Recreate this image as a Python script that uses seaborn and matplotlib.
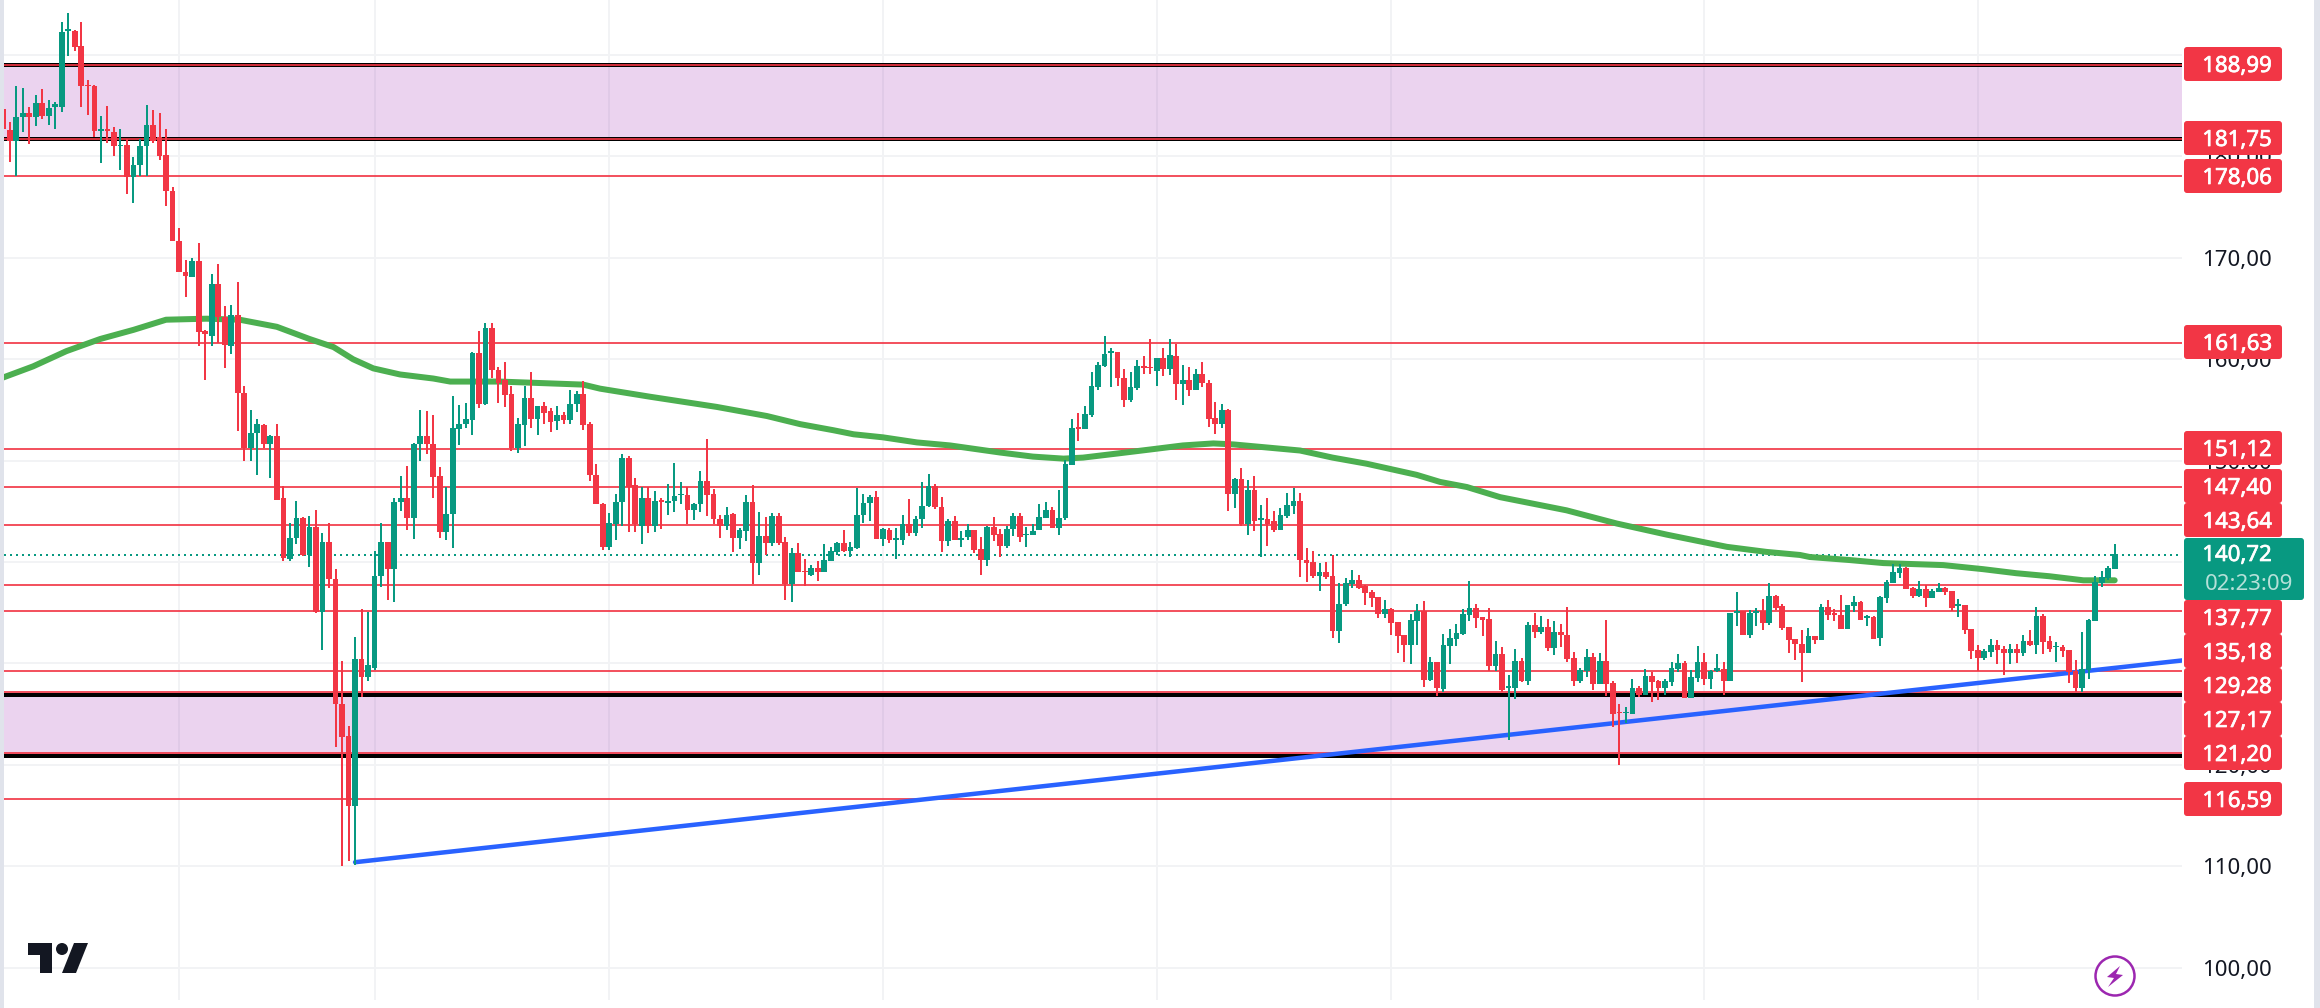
#%% ---- Load Packages ----
import numpy as np
import pandas as pd
import matplotlib.pyplot as plt
import matplotlib.patheffects as pe
import seaborn as sns
from matplotlib.patches import Circle, FancyBboxPatch, Polygon, Rectangle

#%% ---- Chart data ----
high = [
    185.4, 183.4, 186.9, 186.8, 184.9, 186.1, 186.7, 185.6, 185.4, 193.3, 194.1,
    192.5, 193.3, 187.5, 187.0, 184.0, 185.0, 182.9, 182.7, 181.7, 179.9,
    181.7, 185.1, 184.6, 184.3, 182.7, 177.0, 172.9, 169.8, 170.0, 171.5,
    162.9, 168.4, 169.4, 165.3, 165.4, 167.6, 157.4, 155.0, 154.1, 153.6,
    152.5, 153.6, 147.5, 143.9, 146.0, 144.4, 144.5, 145.1, 142.9, 143.9,
    139.3, 130.2, 123.8, 132.6, 135.4, 135.1, 141.1, 143.9, 142.0, 146.3,
    148.5, 149.5, 151.7, 155.0, 154.9, 154.5, 149.4, 147.4, 156.4, 155.5,
    155.7, 160.7, 162.8, 163.6, 163.6, 159.2, 159.7, 157.4, 154.2, 157.4,
    158.7, 155.4, 155.8, 155.2, 155.4, 154.8, 157.0, 156.9, 157.9, 153.8,
    149.7, 145.8, 144.8, 146.7, 150.7, 150.5, 148.3, 147.4, 147.4, 147.0,
    146.3, 147.7, 149.8, 147.9, 147.4, 145.8, 149.0, 152.1, 147.2, 144.6,
    145.4, 144.8, 143.4, 146.6, 147.6, 144.9, 144.4, 144.8, 144.8, 142.5,
    141.4, 141.9, 140.3, 139.7, 140.1, 141.8, 141.5, 142.0, 143.2, 142.0,
    147.3, 146.7, 146.6, 147.0, 143.4, 143.4, 143.4, 144.6, 146.2, 144.5,
    147.9, 148.7, 147.7, 146.4, 144.2, 144.5, 143.1, 143.8, 143.2, 142.5,
    143.6, 144.4, 143.3, 143.6, 144.8, 144.8, 143.5, 143.8, 145.7, 145.9,
    145.4, 147.1, 150.1, 154.1, 154.7, 155.4, 158.7, 159.7, 162.3, 161.1,
    160.7, 159.0, 158.7, 159.9, 160.3, 162.0, 160.1, 161.1, 162.0, 161.5,
    159.4, 159.2, 159.0, 159.7, 158.0, 155.8, 155.6, 155.1, 148.3, 149.3,
    148.1, 148.5, 145.6, 146.3, 145.0, 145.3, 146.8, 147.3, 146.8, 141.4,
    141.1, 139.9, 140.0, 140.7, 137.9, 138.4, 139.2, 138.7, 137.7, 137.2,
    136.6, 136.3, 135.5, 134.1, 132.8, 134.9, 135.9, 136.2, 130.6, 130.1,
    132.9, 133.4, 133.9, 135.4, 138.1, 135.9, 134.6, 135.5, 132.2, 131.6,
    128.9, 131.4, 130.5, 134.1, 135.0, 134.7, 134.4, 134.2, 133.9, 135.6,
    131.1, 129.6, 131.4, 131.0, 131.0, 134.3, 128.3, 126.0, 125.7, 128.5,
    127.8, 129.5, 129.2, 128.4, 128.5, 130.1, 130.9, 130.2, 129.4, 131.7,
    131.0, 129.4, 130.9, 130.1, 135.0, 137.0, 135.2, 135.3, 135.5, 136.4,
    137.9, 136.8, 135.9, 133.6, 132.4, 133.3, 133.5, 132.7, 135.9, 136.3,
    135.4, 136.8, 135.8, 136.7, 136.2, 134.8, 134.7, 136.7, 138.2, 139.8,
    139.8, 139.5, 137.5, 138.1, 137.7, 137.3, 137.9, 137.5, 137.1, 136.4,
    135.8, 133.4, 131.8, 131.4, 132.4, 132.3, 131.7, 131.9, 131.9, 132.8,
    133.3, 135.6, 134.9, 132.7, 132.1, 131.8, 131.3, 130.3, 133.1, 134.4,
    138.6, 139.1, 139.6, 141.8,
]
low = [
    182.4, 179.5, 178.1, 182.4, 181.2, 183.0, 183.7, 183.1, 182.7, 184.4, 189.9,
    190.4, 184.9, 184.1, 181.9, 179.4, 181.3, 180.0, 178.7, 176.3, 175.4,
    178.1, 178.1, 181.3, 179.7, 175.1, 171.7, 168.6, 166.1, 168.1, 161.3,
    158.0, 161.3, 161.6, 159.1, 160.5, 152.9, 150.0, 150.0, 148.6, 151.2,
    148.3, 146.1, 140.1, 140.1, 141.8, 140.6, 139.5, 135.0, 131.3, 137.4,
    121.8, 110.0, 110.5, 110.1, 126.7, 128.3, 129.4, 137.5, 136.3, 136.1,
    145.0, 143.2, 142.3, 150.0, 150.7, 146.3, 142.4, 142.2, 141.4, 151.5,
    153.2, 152.5, 155.2, 155.5, 158.2, 155.7, 155.3, 151.0, 150.8, 151.4,
    153.2, 152.5, 153.6, 152.8, 153.0, 153.6, 153.6, 154.8, 153.0, 148.0,
    145.7, 141.2, 141.2, 142.2, 143.6, 143.0, 143.0, 141.8, 142.9, 143.0,
    143.3, 144.6, 144.9, 145.7, 143.8, 144.1, 144.9, 144.5, 143.8, 142.4,
    143.2, 141.0, 141.3, 142.1, 137.8, 138.7, 140.7, 141.6, 141.7, 136.3,
    136.1, 139.0, 137.6, 138.6, 138.1, 139.0, 140.1, 140.7, 141.0, 140.5,
    141.3, 143.9, 144.0, 142.3, 141.6, 141.9, 140.3, 141.7, 142.6, 142.6,
    143.4, 145.4, 145.2, 141.0, 141.6, 142.2, 141.5, 142.2, 140.9, 138.7,
    139.6, 142.1, 140.5, 141.4, 142.6, 142.0, 141.5, 142.7, 143.2, 144.3,
    143.4, 142.7, 144.1, 149.6, 151.9, 153.1, 154.3, 157.0, 159.2, 157.3,
    157.4, 155.3, 155.8, 157.0, 158.5, 158.5, 157.4, 158.3, 158.4, 156.0,
    155.5, 156.4, 157.0, 157.3, 153.3, 152.6, 153.2, 145.0, 145.3, 143.6,
    142.7, 143.1, 140.5, 141.6, 143.0, 143.2, 144.3, 144.7, 138.5, 138.0,
    138.4, 137.1, 138.3, 132.5, 132.0, 135.7, 137.4, 137.3, 135.8, 135.6,
    134.5, 134.5, 132.8, 131.0, 130.1, 129.9, 131.8, 127.7, 128.3, 126.8,
    127.2, 129.9, 131.7, 132.8, 134.2, 133.5, 132.7, 129.3, 129.3, 127.2,
    122.5, 126.5, 128.2, 127.9, 132.5, 132.9, 131.2, 130.8, 131.6, 130.1,
    127.8, 128.1, 128.7, 127.4, 128.0, 126.8, 123.7, 120.0, 124.1, 125.0,
    126.7, 126.9, 126.2, 126.4, 126.9, 127.8, 129.2, 126.6, 126.6, 128.2,
    127.9, 127.5, 129.2, 126.9, 128.3, 133.7, 132.8, 132.5, 133.7, 133.3,
    133.8, 135.3, 133.3, 131.0, 130.3, 128.2, 131.0, 131.9, 132.3, 134.3,
    134.2, 133.4, 133.4, 135.1, 134.3, 133.7, 132.4, 131.7, 136.0, 137.9,
    138.4, 137.3, 136.5, 136.6, 135.6, 136.5, 137.0, 136.8, 135.2, 134.6,
    132.9, 130.4, 129.3, 130.3, 130.6, 129.9, 128.9, 129.9, 130.0, 130.7,
    131.7, 130.9, 130.9, 131.1, 130.1, 130.6, 128.1, 127.2, 127.2, 128.5,
    134.2, 137.5, 138.2, 139.3,
]
body_top = [
    184.7, 182.6, 183.9, 184.3, 184.3, 185.3, 185.3, 184.8, 185.2, 192.3, 192.6,
    192.4, 190.9, 187.0, 186.9, 182.7, 182.7, 182.4, 181.1, 181.1, 179.2,
    181.0, 183.1, 183.1, 181.9, 180.1, 176.6, 171.7, 168.6, 169.7, 169.7,
    162.8, 167.4, 167.4, 164.2, 164.4, 164.4, 156.7, 152.7, 153.6, 153.5,
    152.4, 152.4, 146.3, 142.4, 144.3, 144.3, 143.5, 143.5, 142.0, 142.0,
    138.3, 126.0, 122.8, 130.4, 130.4, 129.8, 138.6, 142.0, 142.0, 145.9,
    146.3, 146.3, 151.6, 152.4, 152.4, 151.6, 148.5, 144.7, 153.2, 153.6,
    154.1, 160.6, 160.6, 163.1, 163.1, 158.9, 158.0, 156.6, 153.6, 156.2,
    156.2, 155.4, 155.4, 154.9, 154.5, 154.5, 155.6, 156.6, 156.6, 153.6,
    148.6, 145.7, 143.9, 145.9, 150.3, 150.3, 147.6, 146.3, 146.3, 146.0,
    146.1, 146.0, 146.5, 146.7, 146.6, 145.7, 148.0, 148.0, 146.7, 144.2,
    144.6, 144.7, 143.2, 145.9, 145.9, 142.6, 142.6, 144.5, 144.5, 142.0,
    140.9, 140.9, 139.1, 139.4, 139.4, 140.2, 141.1, 141.9, 141.9, 141.5,
    144.6, 145.8, 146.4, 146.4, 143.3, 143.2, 142.4, 143.8, 143.8, 144.2,
    145.5, 147.5, 147.5, 145.4, 144.0, 144.0, 142.4, 143.2, 143.2, 141.3,
    143.5, 143.5, 142.8, 143.3, 144.5, 144.5, 142.8, 143.1, 144.4, 145.1,
    145.1, 144.3, 149.7, 153.2, 153.3, 154.6, 157.4, 159.4, 160.5, 160.8,
    160.7, 158.2, 157.3, 159.3, 159.3, 159.2, 160.1, 160.1, 160.4, 160.3,
    158.0, 158.0, 158.5, 158.5, 157.7, 154.2, 155.0, 155.0, 148.2, 148.2,
    147.1, 147.1, 144.3, 144.2, 144.0, 144.6, 145.6, 146.0, 146.0, 140.2,
    140.0, 139.0, 139.0, 138.6, 135.9, 137.9, 138.2, 138.2, 137.6, 137.0,
    136.6, 135.4, 135.4, 134.1, 132.8, 134.3, 135.2, 135.2, 130.1, 130.1,
    131.8, 132.5, 133.0, 134.9, 135.5, 135.5, 134.6, 134.4, 130.9, 130.9,
    127.8, 130.2, 130.2, 133.8, 133.8, 133.6, 133.6, 133.1, 133.1, 132.8,
    130.5, 129.4, 130.6, 130.6, 130.2, 130.2, 128.1, 125.2, 125.2, 127.6,
    127.6, 128.8, 128.8, 128.3, 128.3, 129.6, 130.0, 130.0, 128.7, 130.1,
    130.1, 129.3, 129.6, 129.5, 135.0, 135.2, 135.2, 135.0, 135.2, 135.2,
    136.7, 136.7, 135.7, 133.6, 132.4, 131.9, 132.7, 132.7, 135.6, 135.6,
    135.0, 134.8, 135.8, 136.1, 136.1, 134.7, 134.6, 136.6, 138.0, 139.0,
    139.4, 139.4, 137.4, 137.3, 137.3, 137.1, 137.4, 137.4, 137.1, 135.9,
    135.8, 133.4, 131.3, 131.2, 131.8, 131.8, 131.4, 131.4, 131.4, 132.2,
    132.2, 134.7, 134.7, 132.2, 131.7, 131.6, 131.3, 129.3, 129.5, 134.3,
    138.0, 138.5, 139.4, 140.8,
]
body_bot = [
    182.7, 181.5, 181.5, 183.9, 183.9, 183.9, 184.0, 184.0, 184.9, 184.9, 192.4,
    190.8, 186.9, 186.9, 182.5, 182.5, 182.5, 181.0, 181.0, 178.0, 178.0,
    179.2, 181.0, 181.5, 180.0, 176.6, 171.7, 168.6, 168.2, 168.1, 162.7,
    162.5, 162.3, 164.2, 161.4, 161.3, 156.7, 151.2, 151.2, 152.7, 151.6,
    151.6, 146.1, 140.4, 140.3, 142.4, 140.7, 140.7, 135.1, 135.1, 138.3,
    126.0, 122.7, 115.9, 115.9, 128.7, 128.7, 129.6, 138.6, 139.3, 139.3,
    145.9, 144.3, 144.3, 151.6, 151.6, 148.4, 143.0, 143.0, 144.7, 153.1,
    153.6, 154.0, 155.6, 155.6, 158.9, 157.7, 156.5, 151.2, 151.2, 153.5,
    154.1, 154.1, 154.7, 153.8, 153.9, 154.0, 154.0, 155.6, 153.5, 148.6,
    145.7, 141.5, 141.5, 143.8, 145.9, 147.4, 143.8, 143.6, 143.6, 143.6,
    145.9, 145.8, 146.0, 146.6, 145.1, 145.1, 145.7, 146.6, 144.2, 143.6,
    143.6, 142.4, 142.4, 143.1, 139.9, 139.9, 141.9, 141.9, 141.9, 137.8,
    137.8, 139.0, 139.0, 138.7, 139.0, 139.0, 140.1, 141.0, 141.1, 141.1,
    141.4, 144.6, 145.8, 142.3, 142.3, 142.2, 142.2, 142.2, 142.9, 142.9,
    144.2, 145.5, 145.4, 142.1, 142.1, 142.2, 142.2, 142.5, 141.2, 140.2,
    140.2, 142.7, 141.6, 141.6, 143.3, 142.5, 142.7, 142.7, 143.2, 144.3,
    143.4, 143.4, 144.3, 149.6, 153.1, 153.1, 154.5, 157.3, 159.3, 160.6,
    158.2, 156.0, 156.0, 157.2, 159.1, 159.1, 158.8, 159.0, 159.0, 157.6,
    157.6, 157.0, 157.0, 157.7, 154.1, 153.6, 153.6, 146.7, 146.7, 143.8,
    143.8, 144.0, 144.1, 143.8, 143.2, 143.2, 144.5, 145.5, 140.2, 139.9,
    138.6, 138.6, 138.5, 133.2, 133.2, 135.9, 137.8, 137.4, 136.9, 136.5,
    134.9, 134.9, 134.0, 132.7, 131.8, 131.8, 134.2, 128.4, 128.4, 127.6,
    127.5, 131.7, 132.4, 132.9, 134.8, 134.5, 134.3, 129.7, 129.7, 127.4,
    127.6, 127.6, 128.3, 128.3, 133.1, 133.1, 131.5, 131.5, 132.8, 130.4,
    128.3, 128.3, 129.3, 128.0, 128.0, 128.0, 125.0, 125.1, 125.1, 125.0,
    126.9, 126.9, 128.2, 127.6, 127.6, 128.2, 129.5, 126.6, 126.6, 128.6,
    128.5, 128.5, 129.3, 128.3, 128.3, 135.0, 132.8, 132.8, 135.0, 134.0,
    134.0, 135.5, 133.5, 132.3, 131.9, 131.0, 131.0, 132.3, 132.3, 134.8,
    134.8, 133.4, 133.4, 135.7, 134.3, 134.5, 132.4, 132.5, 136.5, 137.9,
    138.9, 137.3, 136.7, 136.7, 136.5, 136.5, 137.0, 137.0, 135.5, 135.7,
    133.3, 131.2, 130.5, 130.5, 131.1, 131.3, 131.0, 131.0, 131.0, 131.0,
    131.8, 131.8, 132.1, 131.4, 131.6, 131.2, 129.2, 127.6, 127.6, 129.4,
    134.2, 137.9, 138.4, 139.3,
]
# g = close above open, r = close below open
direction = (
    "rrggrgrgggg" "rrrrgrrgrg" "ggrrrrrrgr" "rgrrgrrggr" "grrggrgrgr"
    "rrrgrgggrg" "grggrrrggg" "ggrgrrrrgg" "rgrrgrggrr" "rrgggrrgrg"
    "rgggrggrrr" "grggrgrgrr" "grrgrgggrg" "gggrgrggrg" "ggrrgrggrr"
    "grrggrgggg" "rgggrggggg" "rrggrrgrgr" "grgrrrgrgr" "grgrrgggrr"
    "rgrrgggrrr" "rgrrrggrgr" "gggggrrrgr" "ggrgrgrgrr" "rggrgrrrgg"
    "rgrrgggrgg" "rggrggrggr" "grrrrrgrgr" "rrggrgrggg" "grrgrggrrg"
    "rrrggrrgrg" "rgrrgrrrgg" "gggg"
)

# moving average, read at a handful of bars
ma_bar = [
    -1, 3.6, 8.7, 13.9, 19, 24, 30.2, 35.3, 41, 46, 49.7, 52.7, 55.8, 59.9, 65,
    67.6, 75.2, 88, 90.6, 98.3, 108.5, 116.2, 121.3, 126.4, 129.5, 134, 139.2,
    144.3, 152, 157, 161.7, 164.7, 169.9, 175, 180, 184.7, 187.8, 192.9, 198,
    203, 208.2, 215.9, 219.5, 223.6, 228.7, 238.9, 246.6, 254.3, 263.5, 269.6,
    274.7, 276.2, 282.3, 287.5, 296.7, 302.8, 307.9, 313, 318.2, 323,
]
ma_price = [
    158.2, 159.3, 160.8, 162.0, 162.9, 163.9, 164.0, 163.9, 163.2, 162.0, 161.2,
    160.0, 159.1, 158.5, 158.1, 157.8, 157.8, 157.5, 157.1, 156.3, 155.3, 154.4,
    153.6, 153.0, 152.6, 152.3, 151.8, 151.5, 150.8, 150.4, 150.2, 150.3, 150.7,
    151.1, 151.5, 151.7, 151.6, 151.3, 151.0, 150.3, 149.7, 148.6, 147.9, 147.4,
    146.4, 145.1, 143.8, 142.7, 141.5, 141.0, 140.7, 140.5, 140.2, 139.9, 139.7,
    139.3, 138.9, 138.6, 138.2, 138.2,
]
trend_bar = [53, 333.4]
trend_price = [110.4, 130.3]

level_prices = [188.99, 181.75, 178.06, 161.63, 151.12, 147.40, 143.64,
                137.77, 135.18, 129.28, 127.17, 121.20, 116.59]
last_price = 140.72
countdown = "02:23:09"
zone_high = [188.99, 126.9]
zone_low = [181.75, 120.9]
axis_ticks = [100, 110, 120, 130, 140, 150, 160, 170, 180, 190]
grid_bars = [26, 56, 92, 134, 176, 212, 260, 302]

#%% ---- Layout (pixels of the 2320x1008 picture) ----
W, H = 2320, 1008
PANE_L, PANE_R, PANE_B = 4, 2182, 1000
label_centers = [64, 138, 176, 342, 448, 486, 520, 617, 651, 685, 719, 753, 799]

RED = "#f23645"
GREEN = "#089981"
PX = 0.72  # one pixel in points at dpi 100
THICK = [pe.withStroke(linewidth=0.5, foreground="white")]

def money(v):
    return f"{v:.2f}".replace(".", ",")

#%% ---- Figure ----
sns.set_theme(style="white")
plt.rcParams["font.family"] = ["Noto Sans", "DejaVu Sans"]

fig = plt.figure(figsize=(W / 100, H / 100), dpi=100, facecolor="white")
ax = fig.add_axes([PANE_L / W, 1 - PANE_B / H, (PANE_R - PANE_L) / W, PANE_B / H])

bars = pd.DataFrame({"high": high, "low": low, "top": body_top, "bot": body_bot,
                     "dir": list(direction)})
bars["bar"] = np.arange(len(bars)) - 1
bars["color"] = bars["dir"].map({"g": GREEN, "r": RED})

ax.set_ylim(96.81, 195.43)
ax.set_xlim(-0.87, 333.33)
ax.set_axis_off()

for t in axis_ticks:
    ax.axhline(t, color="#f2f3f5", lw=2 * PX, zorder=1)
for b in grid_bars:
    ax.axvline(b, color="#f2f3f5", lw=2 * PX, zorder=1)

for hi, lo in zip(zone_high, zone_low):
    ax.axhspan(lo, hi, color="#9c27b0", alpha=0.2, lw=0, zorder=2)
    ax.axhline(hi, color="black", lw=4 * PX, zorder=3)
    ax.axhline(lo, color="black", lw=4 * PX, zorder=3)
for p in level_prices:
    ax.axhline(p, color=RED, lw=1.7 * PX, zorder=4)
ax.axhline(last_price, color=GREEN, lw=2 * PX, ls=(0, (1, 2)), zorder=4)

sns.lineplot(x=trend_bar, y=trend_price, ax=ax, color="#2962ff", linewidth=4.5 * PX,
             errorbar=None, zorder=5)
sns.lineplot(x=ma_bar, y=ma_price, ax=ax, color="#4caf50", linewidth=6 * PX,
             errorbar=None, zorder=6, solid_capstyle="round", solid_joinstyle="round")

ax.vlines(bars["bar"], bars["low"], bars["high"], color=bars["color"],
          lw=2 * PX, zorder=7)
ax.bar(bars["bar"], bars["top"] - bars["bot"], bottom=bars["bot"], width=0.88,
       color=bars["color"], lw=0, zorder=8)
ax.set_xlim(-0.87, 333.33)
ax.set_ylim(96.81, 195.43)

#%% ---- Price axis, strips and logos, drawn in picture pixels ----
ov = fig.add_axes([0, 0, 1, 1], facecolor="none")
ov.set_xlim(0, W)
ov.set_ylim(H, 0)
ov.set_axis_off()

ov.add_patch(Rectangle((0, 0), PANE_L, H, color="#e0e3eb", lw=0))
ov.add_patch(Rectangle((2314, 0), 6, H, color="#e0e3eb", lw=0))

y_of = lambda p: (195.43 - p) / (195.43 - 96.81) * PANE_B
# plain ticks sit under the coloured price tags, as they do on the original
for t in axis_ticks:
    ov.text(2272, y_of(t), money(t), ha="right", va="center_baseline", fontsize=16,
            color="#131722", zorder=1)

for p, yc in zip(level_prices, label_centers):
    ov.add_patch(FancyBboxPatch((2186, yc - 15), 94, 30, boxstyle="round,pad=2,rounding_size=3",
                                fc=RED, ec="none", zorder=3))
    ov.text(2272, yc, money(p), ha="right", va="center_baseline", fontsize=16,
            color="white", zorder=4, path_effects=THICK)

ov.add_patch(FancyBboxPatch((2186, 540), 116, 58, boxstyle="round,pad=2,rounding_size=3",
                            fc=GREEN, ec="none", zorder=5))
ov.text(2272, 553, money(last_price), ha="right", va="center_baseline", fontsize=16,
        color="white", zorder=6, path_effects=THICK)
ov.text(2293, 582, countdown, ha="right", va="center_baseline", fontsize=16,
        color="#b5e0d8", zorder=6)

# TradingView mark
ov.add_patch(Polygon([(28, 943), (52, 943), (52, 973), (40, 973), (40, 955), (28, 955)],
                     fc="#131722", ec="none"))
ov.add_patch(Circle((62, 949), 6, fc="#131722", ec="none"))
ov.add_patch(Polygon([(74, 943), (88, 943), (76, 973), (62, 973)], fc="#131722", ec="none"))

# lightning badge
ov.add_patch(Circle((2115, 976), 19.5, fc="white", ec="#9c27b0", lw=2.5 * PX))
ov.add_patch(Polygon([(2120, 966), (2107, 977), (2114, 978), (2108, 987), (2123, 975), (2116, 974)],
                     fc="#9c27b0", ec="none"))

fig.savefig("out.png", dpi=100)
